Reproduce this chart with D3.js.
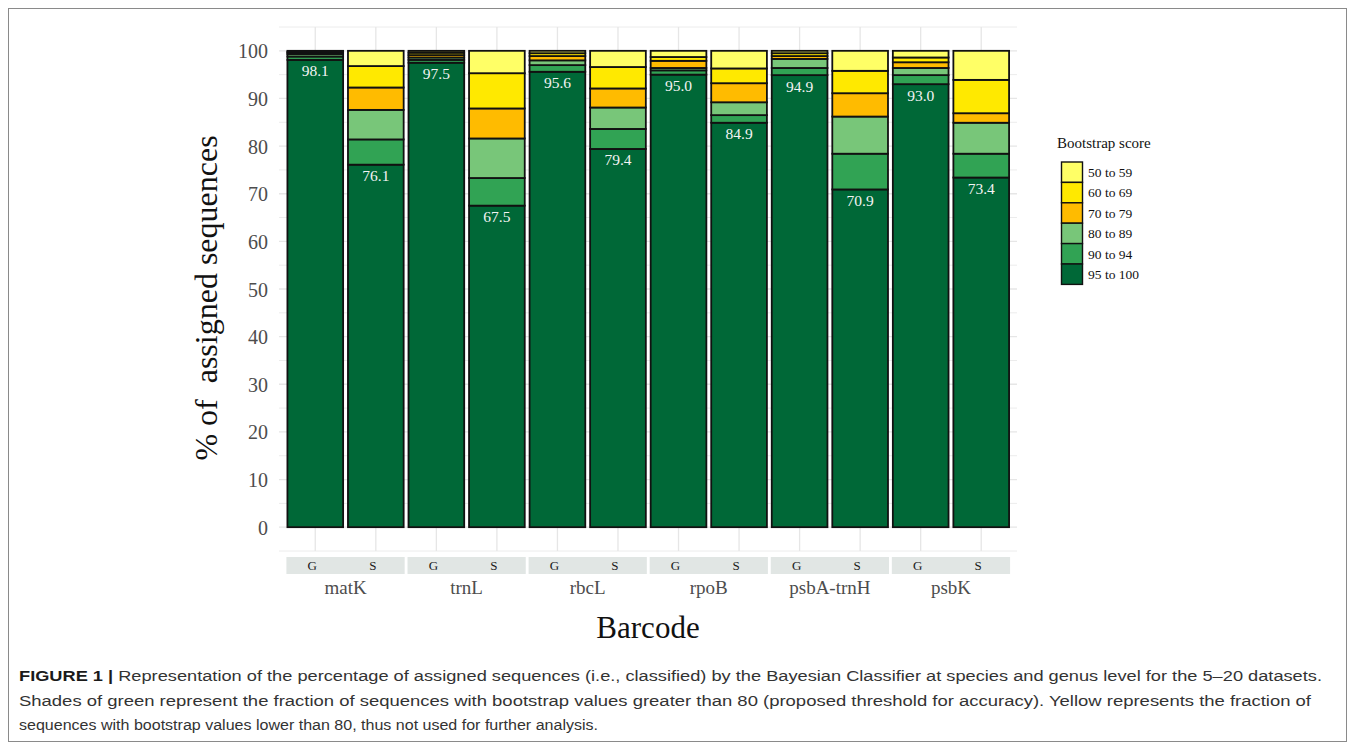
<!DOCTYPE html>
<html>
<head>
<meta charset="utf-8">
<script src="https://cdn.jsdelivr.net/npm/d3@7"></script>
<style>
  html, body { margin: 0; padding: 0; background: #fff; }
  svg { display: block; }
  .serif { font-family: "Liberation Serif", "DejaVu Serif", serif; }
  .sans { font-family: "Liberation Sans", Arial, sans-serif; }
</style>
</head>
<body>
<svg id="fig" width="1355" height="750"></svg>
<script>
// Barcode markers and taxonomic levels (G = genus, S = species)
const barcodes = ["matK", "trnL", "rbcL", "rpoB", "psbA-trnH", "psbK"];
const levels = ["G", "S"];

// Bootstrap score classes, stacked from the bottom up
const scoreClasses = ["95 to 100", "90 to 94", "80 to 89", "70 to 79", "60 to 69", "50 to 59"];
const scoreColors = ["#006837", "#31a354", "#78c679", "#ffbb00", "#ffe900", "#ffff66"];

// Percent of assigned sequences per class; order: matK G, matK S, trnL G, trnL S, ...
const s95to100 = [98.1, 76.1, 97.5, 67.5, 95.6, 79.4, 95.0, 84.9, 94.9, 70.9, 93.0, 73.4];
const s90to94  = [0.7, 5.3, 0.6, 5.8, 1.4, 4.2, 0.9, 1.6, 1.5, 7.5, 1.9, 5.0];
const s80to89  = [0.5, 6.2, 0.5, 8.3, 1.0, 4.5, 0.5, 2.7, 1.9, 7.8, 1.5, 6.5];
const s70to79  = [0.3, 4.7, 0.5, 6.3, 0.9, 4.0, 1.5, 4.0, 0.6, 4.9, 1.2, 2.0];
const s60to69  = [0.2, 4.5, 0.5, 7.4, 0.6, 4.5, 0.8, 3.1, 0.6, 4.7, 1.0, 7.0];
const s50to59  = [0.2, 3.2, 0.4, 4.7, 0.5, 3.4, 1.3, 3.7, 0.5, 4.2, 1.4, 6.1];

const yTicks = [0, 10, 20, 30, 40, 50, 60, 70, 80, 90, 100];
const yMinor = [-5, 5, 15, 25, 35, 45, 55, 65, 75, 85, 95, 105];

const captionLines = [
  [["FIGURE 1 | ", true], ["Representation of the percentage of assigned sequences (i.e., classified) by the Bayesian Classifier at species and genus level for the 5–20 datasets.", false]],
  [["Shades of green represent the fraction of sequences with bootstrap values greater than 80 (proposed threshold for accuracy). Yellow represents the fraction of", false]],
  [["sequences with bootstrap values lower than 80, thus not used for further analysis.", false]]
];

// ---- assemble rows ----
const seriesByClass = [s95to100, s90to94, s80to89, s70to79, s60to69, s50to59];
const rows = [];
barcodes.forEach((b, bi) => {
  levels.forEach((lv, li) => {
    const i = bi * levels.length + li;
    const row = { key: b + "|" + lv, barcode: b, level: lv };
    scoreClasses.forEach((c, ci) => { row[c] = seriesByClass[ci][i]; });
    rows.push(row);
  });
});

const svg = d3.select("#fig");

// figure frame
svg.append("rect")
  .attr("x", 8.5).attr("y", 8.5).attr("width", 1338).attr("height", 733)
  .attr("fill", "none").attr("stroke", "#8a8a8a").attr("stroke-width", 1);

// ---- scales ----
const panel = { left: 279, right: 1017, top: 27, bottom: 551 };
const x = d3.scaleBand()
  .domain(rows.map(d => d.key))
  .range([285, 1011.5])
  .paddingInner(0.08)
  .paddingOuter(0.04);
const y = d3.scaleLinear().domain([-5, 105]).range([panel.bottom, panel.top]);
const color = d3.scaleOrdinal().domain(scoreClasses).range(scoreColors);

// ---- grid ----
const grid = svg.append("g");
grid.selectAll("line.minor").data(yMinor).join("line")
  .attr("class", "minor")
  .attr("x1", panel.left).attr("x2", panel.right)
  .attr("y1", d => y(d)).attr("y2", d => y(d))
  .attr("stroke", "#ececec").attr("stroke-width", 1);
grid.selectAll("line.major").data(yTicks).join("line")
  .attr("class", "major")
  .attr("x1", panel.left).attr("x2", panel.right)
  .attr("y1", d => y(d)).attr("y2", d => y(d))
  .attr("stroke", "#e6e6e6").attr("stroke-width", 1.3);
grid.selectAll("line.vert").data(rows).join("line")
  .attr("class", "vert")
  .attr("x1", d => x(d.key) + x.bandwidth() / 2).attr("x2", d => x(d.key) + x.bandwidth() / 2)
  .attr("y1", panel.top).attr("y2", panel.bottom)
  .attr("stroke", "#e6e6e6").attr("stroke-width", 1.3);

// ---- stacked bars ----
const stacked = d3.stack().keys(scoreClasses)(rows);
const bars = svg.append("g");
bars.selectAll("g").data(stacked).join("g")
  .attr("fill", d => color(d.key))
  .selectAll("rect").data(d => d).join("rect")
  .attr("x", d => x(d.data.key))
  .attr("width", x.bandwidth())
  .attr("y", d => y(d[1]))
  .attr("height", d => y(d[0]) - y(d[1]))
  .attr("stroke", "#111")
  .attr("stroke-width", 1.8);

// value labels for the 95 to 100 class
svg.append("g").selectAll("text").data(rows).join("text")
  .attr("class", "serif")
  .attr("x", d => x(d.key) + x.bandwidth() / 2)
  .attr("y", d => y(d["95 to 100"]) + 16.5)
  .attr("text-anchor", "middle")
  .attr("font-size", 15.5)
  .attr("fill", "#f4f4f4")
  .text(d => d["95 to 100"].toFixed(1));

// ---- y axis ----
const yAxis = svg.append("g")
  .attr("transform", `translate(${panel.left - 11},0)`)
  .call(d3.axisLeft(y).tickValues(yTicks).tickSize(0).tickPadding(0));
yAxis.select(".domain").remove();
yAxis.selectAll("text")
  .attr("class", "serif")
  .attr("font-size", 20)
  .attr("fill", "#4d4d4d")
  .attr("dy", "0.35em");

svg.append("text")
  .attr("class", "serif")
  .attr("transform", "translate(217,298) rotate(-90)")
  .attr("text-anchor", "middle")
  .attr("font-size", 32)
  .attr("fill", "#111")
  .style("white-space", "pre")
  .text("% of  assigned sequences");

// ---- facet strips and barcode labels ----
const strips = svg.append("g");
barcodes.forEach(b => {
  const x0 = x(b + "|" + levels[0]);
  const x1 = x(b + "|" + levels[levels.length - 1]) + x.bandwidth();
  strips.append("rect")
    .attr("x", x0 - 1).attr("y", 557).attr("width", x1 - x0 + 2).attr("height", 17)
    .attr("fill", "#e1e6e4");
  levels.forEach(lv => {
    strips.append("text")
      .attr("class", "serif")
      .attr("x", x(b + "|" + lv) + x.bandwidth() / 2 - 3)
      .attr("y", 570)
      .attr("text-anchor", "middle")
      .attr("font-size", 13)
      .attr("fill", "#1a1a1a")
      .text(lv);
  });
  strips.append("text")
    .attr("class", "serif")
    .attr("x", (x0 + x1) / 2)
    .attr("y", 594)
    .attr("text-anchor", "middle")
    .attr("font-size", 19)
    .attr("fill", "#4d4d4d")
    .text(b);
});

svg.append("text")
  .attr("class", "serif")
  .attr("x", (panel.left + panel.right) / 2)
  .attr("y", 638)
  .attr("text-anchor", "middle")
  .attr("font-size", 31)
  .attr("fill", "#111")
  .text("Barcode");

// ---- legend ----
const legend = svg.append("g").attr("transform", "translate(1057,0)");
legend.append("text")
  .attr("class", "serif")
  .attr("x", 0).attr("y", 148)
  .attr("font-size", 15)
  .attr("fill", "#111")
  .text("Bootstrap score");
const legendOrder = scoreClasses.slice().reverse();
const keyH = 20.4;
legend.selectAll("rect").data(legendOrder).join("rect")
  .attr("x", 4.5).attr("y", (d, i) => 162 + i * keyH)
  .attr("width", 21).attr("height", keyH)
  .attr("fill", d => color(d))
  .attr("stroke", "#111").attr("stroke-width", 1.4);
legend.selectAll("text.lab").data(legendOrder).join("text")
  .attr("class", "serif lab")
  .attr("x", 31).attr("y", (d, i) => 162 + i * keyH + keyH / 2)
  .attr("dy", "0.35em")
  .attr("font-size", 13.5)
  .attr("fill", "#111")
  .text(d => d);

// ---- caption ----
const capY = [681, 706, 730];
const capW = [1303, 1292, 579];
captionLines.forEach((parts, i) => {
  const t = svg.append("text")
    .attr("class", "sans")
    .attr("x", 19).attr("y", capY[i])
    .attr("font-size", 15.5)
    .attr("fill", "#333")
    .attr("textLength", capW[i])
    .attr("lengthAdjust", "spacingAndGlyphs")
    .style("white-space", "pre");
  parts.forEach(([s, bold]) => {
    t.append("tspan")
      .attr("font-weight", bold ? "bold" : "normal")
      .attr("fill", bold ? "#1a1a1a" : "#333")
      .text(s);
  });
});
</script>
</body>
</html>
